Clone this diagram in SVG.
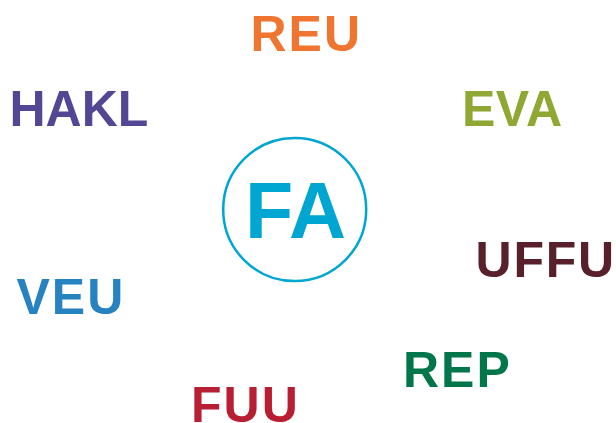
<svg xmlns="http://www.w3.org/2000/svg" width="616" height="423" viewBox="0 0 616 423">
<style>
.lbl{font-family:"Liberation Sans",Arial,sans-serif;font-weight:700;font-size:50px;letter-spacing:2px}
.c{font-family:"Liberation Sans",Arial,sans-serif;font-weight:700;font-size:79px;fill:#00A6D2}
</style>
<rect width="616" height="423" fill="#fff"/>
<g id="connectors"></g>
<g id="FA"><circle cx="294.7" cy="209.5" r="71.5" fill="none" stroke="#00A6D2" stroke-width="2.5"/><text class="c" x="245" y="237.5">FA</text></g>
<g id="REU"><text class="lbl" x="250.5" y="51" fill="#F07530">REU</text></g>
<g id="HAKL"><text class="lbl" x="9.5" y="126" fill="#534795" style="letter-spacing:0">HAKL</text></g>
<g id="EVA"><text class="lbl" x="462" y="125.5" fill="#8EA833" style="letter-spacing:0.5px">EVA</text></g>
<g id="UFFU"><text class="lbl" x="475.5" y="277" fill="#58202A" style="letter-spacing:1.8px">UFFU</text></g>
<g id="VEU"><text class="lbl" x="16.5" y="313.5" fill="#2682C0">VEU</text></g>
<g id="REP"><text class="lbl" x="403" y="387" fill="#00764A">REP</text></g>
<g id="FUU"><text class="lbl" x="191" y="422" fill="#B81F32">FUU</text></g>
</svg>
